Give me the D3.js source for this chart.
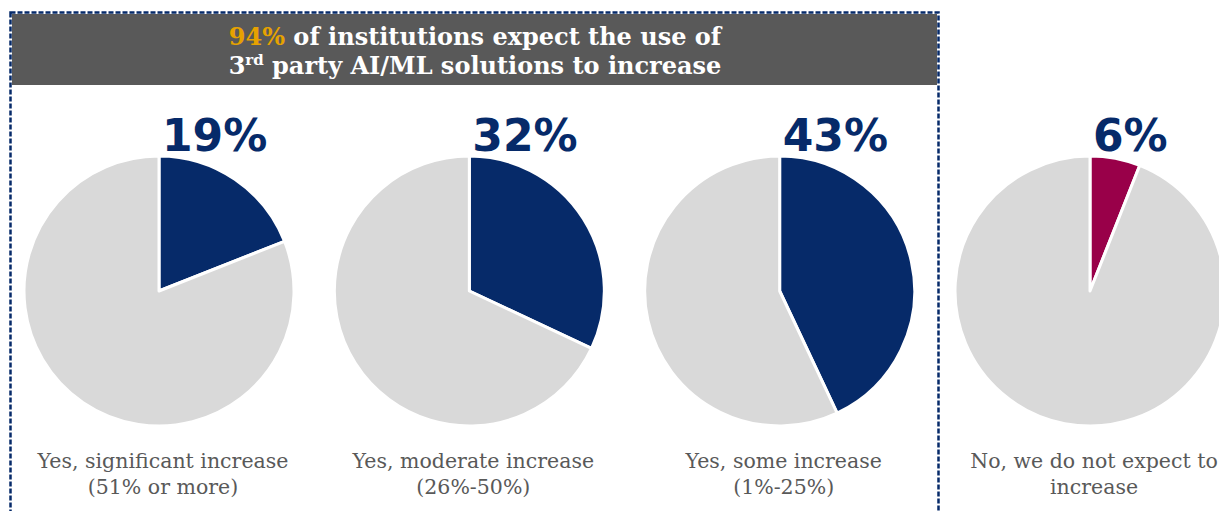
<!DOCTYPE html>
<html>
<head>
<meta charset="utf-8">
<script src="https://cdn.jsdelivr.net/npm/d3@7"></script>
<style>
  html, body { margin: 0; padding: 0; background: #fff; }
  svg { display: block; }
</style>
</head>
<body>
<svg id="chart" width="1219" height="511"></svg>
<script>
// Survey answers: share of institutions per expected change in 3rd party AI/ML use
const categories = [
  ["Yes, significant increase", "(51% or more)"],
  ["Yes, moderate increase", "(26%-50%)"],
  ["Yes, some increase", "(1%-25%)"],
  ["No, we do not expect to", "increase"]
];
const shares = [19, 32, 43, 6];
const valueLabels = ["19%", "32%", "43%", "6%"];
const sliceColors = ["#062a69", "#062a69", "#062a69", "#990049"];
const headlineValue = "94%";

const svg = d3.select("#chart");

const navy = "#062a69";
const restGray = "#d9d9d9";
const serif = "'DejaVu Serif', 'Liberation Serif', serif";
const sans = "'DejaVu Sans', Verdana, sans-serif";

// Panel positions
const x = d3.scalePoint().domain(d3.range(shares.length)).range([159, 1090]);
const cy = 291, radius = 135;

// Dashed frame around the "yes" answers
svg.append("rect")
  .attr("x", 10.5).attr("y", 12.5)
  .attr("width", 928).attr("height", 520)
  .attr("fill", "none")
  .attr("stroke", navy)
  .attr("stroke-width", 2.5)
  .attr("stroke-dasharray", "5,2");

// Headline banner
svg.append("rect")
  .attr("x", 12).attr("y", 14)
  .attr("width", 925).attr("height", 71)
  .attr("fill", "#595959");

const head = svg.append("text")
  .attr("text-anchor", "middle")
  .attr("font-family", serif)
  .attr("font-weight", "bold")
  .attr("font-size", 24)
  .attr("fill", "#fff");

const l1 = head.append("tspan").attr("x", 475).attr("y", 45);
l1.append("tspan").attr("fill", "#e6a200").text(headlineValue);
l1.append("tspan").text(" of institutions expect the use of");

const l2 = head.append("tspan").attr("x", 475).attr("y", 74);
l2.append("tspan").text("3");
l2.append("tspan").attr("font-size", 15).attr("dy", -9).text("rd");
l2.append("tspan").attr("dy", 9).text(" party AI/ML solutions to increase");

// Pies
const pie = d3.pie().sort(null).value(d => d);
const arc = d3.arc().innerRadius(0).outerRadius(radius);

shares.forEach((v, i) => {
  const g = svg.append("g").attr("transform", `translate(${x(i)},${cy})`);
  const data = pie([v, 100 - v]);
  g.selectAll("path")
    .data(data)
    .join("path")
    .attr("d", arc)
    .attr("fill", (d, j) => j === 0 ? sliceColors[i] : restGray)
    .attr("stroke", "#fff")
    .attr("stroke-width", 3)
    .attr("stroke-linejoin", "round");

  // Value label above the pie
  g.append("text")
    .attr("x", 3).attr("y", -140)
    .attr("font-family", sans)
    .attr("font-weight", "bold")
    .attr("font-size", 44)
    .attr("fill", navy)
    .text(valueLabels[i]);

  // Category label below the pie
  const t = g.append("text")
    .attr("text-anchor", "middle")
    .attr("font-family", serif)
    .attr("font-size", 20.5)
    .attr("fill", "#595959");
  categories[i].forEach((line, k) => {
    t.append("tspan").attr("x", 4).attr("y", 177 + k * 26).text(line);
  });
});
</script>
</body>
</html>
